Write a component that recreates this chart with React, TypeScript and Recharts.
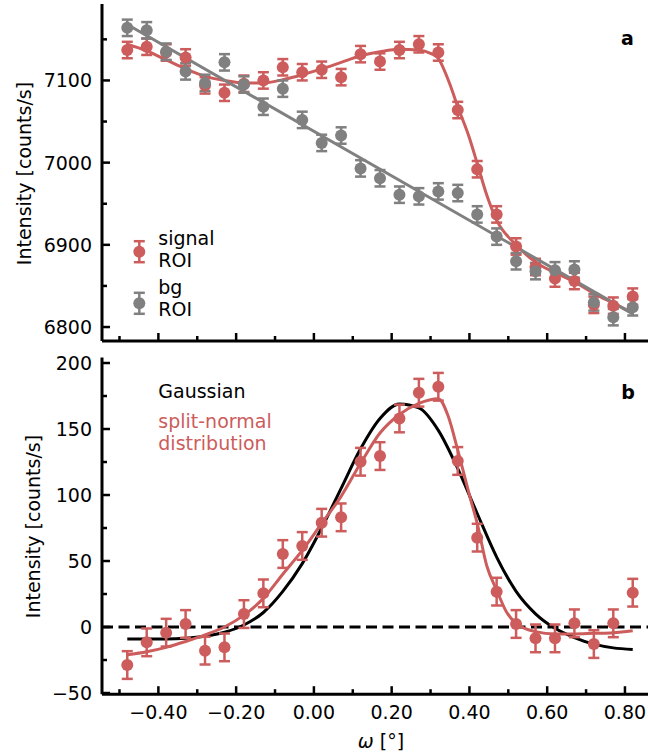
import React from 'react';
import { ComposedChart, Line, Scatter, ErrorBar, XAxis, YAxis, ReferenceLine } from 'recharts';

// measured points (omega in degrees)
const omega = [
  -0.48, -0.43, -0.38, -0.33, -0.28, -0.23, -0.18, -0.13, -0.08, -0.03, 0.02, 0.07, 0.12, 0.17,
  0.22, 0.27, 0.32, 0.37, 0.42, 0.47, 0.52, 0.57, 0.62, 0.67, 0.72, 0.77, 0.82,
];
const signalRoi = [
  7137, 7141, 7134, 7128, 7094, 7085, 7096, 7100, 7116, 7110, 7113, 7104, 7132, 7123,
  7137, 7144, 7134, 7064, 6992, 6937, 6898, 6873, 6859, 6856, 6827, 6826, 6837,
];
const bgRoi = [
  7164, 7161, 7135, 7111, 7097, 7122, 7095, 7068, 7090, 7052, 7024, 7033, 6993, 6981,
  6961, 6959, 6965, 6963, 6937, 6910, 6880, 6868, 6869, 6870, 6830, 6812, 6824,
];
const roiErr = 10;
const netSignal = [
  -28.8, -11.6, -4.3, 2.3, -17.9, -15.4, 9.8, 25.5, 55.3, 61.4, 79, 83.1, 125.2, 129.5,
  158, 177.5, 182, 125.8, 67.7, 26.8, 2.3, -8.6, -8.6, 2.8, -12.9, 2.8, 26,
];
const netErr = 10.5;

// fitted curves
const signalFitX = [
  -0.48, -0.43, -0.38, -0.33, -0.28, -0.23, -0.18, -0.13, -0.08, -0.03, 0.02, 0.07, 0.12, 0.17,
  0.22, 0.27, 0.3, 0.32, 0.33, 0.35, 0.37, 0.4, 0.42, 0.445, 0.47, 0.52, 0.57, 0.62, 0.67, 0.72, 0.77, 0.82,
];
const signalFitY = [
  7144, 7136, 7125, 7114, 7105, 7100, 7097, 7097, 7101, 7107, 7114, 7122, 7130, 7135,
  7138, 7137, 7133, 7127, 7118, 7095, 7068, 7030, 6999, 6960, 6930, 6900, 6879, 6866, 6855, 6841, 6829, 6817,
];
const bgFitX = [-0.48, 0.82];
const bgFitY = [7168, 6816];

const gaussFitX = [
  -0.48, -0.43, -0.38, -0.33, -0.28, -0.23, -0.18, -0.13, -0.08, -0.03, 0.02, 0.07, 0.12, 0.17,
  0.22, 0.27, 0.32, 0.37, 0.42, 0.47, 0.52, 0.57, 0.62, 0.67, 0.72, 0.77, 0.82,
];
const gaussFitY = [
  -9, -9, -9, -8.5, -7, -4, 1.5, 11, 27, 48, 75, 105, 135, 158,
  169, 166, 149, 120, 86, 53, 27, 10, -1, -8, -13, -15.8, -17,
];
const splitFitX = [
  -0.48, -0.43, -0.38, -0.33, -0.28, -0.23, -0.18, -0.13, -0.08, -0.03, 0.02, 0.07, 0.12, 0.17,
  0.22, 0.27, 0.32, 0.345, 0.37, 0.4, 0.42, 0.445, 0.47, 0.495, 0.52, 0.57, 0.62, 0.67, 0.72, 0.77, 0.82,
];
const splitFitY = [
  -21, -18.7, -15.4, -11, -6, 0, 9, 21.7, 40, 58, 78.5, 99, 124, 147,
  161, 169.5, 173, 160, 134, 100, 78.5, 46, 28, 11.6, 2.8, -3.5, -5.3, -5.3, -4.8, -4.3, -2.8,
];

const xDomain = [-0.545, 0.885];
const xTicks = [-0.5, -0.4, -0.3, -0.2, -0.1, 0, 0.1, 0.2, 0.3, 0.4, 0.5, 0.6, 0.7, 0.8];
const xMajor = [-0.4, -0.2, 0, 0.2, 0.4, 0.6, 0.8];
const topDomain = [6783, 7193];
const topTicks = [6800, 6850, 6900, 6950, 7000, 7050, 7100, 7150];
const topMajor = [6800, 6900, 7000, 7100];
const botDomain = [-50.9, 204.1];
const botTicks = [-50, -25, 0, 25, 50, 75, 100, 125, 150, 175, 200];
const botMajor = [-50, 0, 50, 100, 150, 200];

const RED = '#cd5c5c';
const GREY = '#808080';
const FONT = '"DejaVu Sans", sans-serif';
const frame = { stroke: '#000', strokeWidth: 3 };

const pts = (xs: number[], ys: number[], err?: number) =>
  xs.map((x, i) => ({ x, y: ys[i], err }));

const near = (v: number, list: number[]) => list.some((m) => Math.abs(m - v) < 1e-6);
const fmtX = (v: number) => (v < 0 ? '\u2212' : '') + Math.abs(v).toFixed(2);
const fmtY = (v: number) => (v < 0 ? '\u2212' : '') + Math.abs(v);

const BottomTick = ({ x, y, payload, label }: any) => {
  const major = near(payload.value, xMajor);
  return (
    <g>
      <line x1={x} x2={x} y1={y} y2={y - (major ? 8 : 5)} stroke="#000" strokeWidth={2.5} />
      {label && major && (
        <text x={x} y={y + 25} textAnchor="middle" fontSize={19} fontFamily={FONT} fill="#000">
          {fmtX(payload.value)}
        </text>
      )}
    </g>
  );
};

const TopTick = ({ x, y, payload }: any) => {
  const major = near(payload.value, xMajor);
  return <line x1={x} x2={x} y1={y} y2={y + (major ? 8 : 5)} stroke="#000" strokeWidth={2.5} />;
};

const LeftTick = ({ x, y, payload, majors }: any) => {
  const major = near(payload.value, majors);
  return (
    <g>
      <line x1={x} x2={x + (major ? 8 : 5)} y1={y} y2={y} stroke="#000" strokeWidth={2.5} />
      {major && (
        <text x={x - 10} y={y + 7} textAnchor="end" fontSize={19} fontFamily={FONT} fill="#000">
          {fmtY(payload.value)}
        </text>
      )}
    </g>
  );
};

const dot = (color: string) => (p: any) => <circle cx={p.cx} cy={p.cy} r={6} fill={color} />;

const Axes = ({ yDomain, yTicks, yMajor, xHeight, label }: any) => [
  <XAxis
    key="xb"
    type="number"
    dataKey="x"
    domain={xDomain}
    ticks={xTicks}
    interval={0}
    allowDataOverflow
    height={xHeight}
    tickSize={0}
    tickMargin={0}
    axisLine={frame}
    tickLine={false}
    tick={(p: any) => <BottomTick {...p} label={label} />}
  />,
  <XAxis
    key="xt"
    xAxisId="top"
    orientation="top"
    type="number"
    dataKey="x"
    domain={xDomain}
    ticks={xTicks}
    interval={0}
    allowDataOverflow
    height={0}
    tickSize={0}
    tickMargin={0}
    axisLine={frame}
    tickLine={false}
    tick={(p: any) => <TopTick {...p} />}
  />,
  <YAxis
    key="yl"
    type="number"
    dataKey="y"
    domain={yDomain}
    ticks={yTicks}
    interval={0}
    allowDataOverflow
    width={102}
    tickSize={0}
    tickMargin={0}
    axisLine={frame}
    tickLine={false}
    tick={(p: any) => <LeftTick {...p} majors={yMajor} />}
  />,
];

const LegendGlyph = ({ x, y, color }: any) => (
  <g stroke={color} strokeWidth={2.5}>
    <line x1={x} x2={x} y1={y - 10.5} y2={y + 10.5} />
    <line x1={x - 5.5} x2={x + 5.5} y1={y - 10.5} y2={y - 10.5} />
    <line x1={x - 5.5} x2={x + 5.5} y1={y + 10.5} y2={y + 10.5} />
    <circle cx={x} cy={y} r={6} fill={color} stroke="none" />
  </g>
);

export default function App() {
  return (
    <div
      style={{
        position: 'fixed', left: 0, top: 0, width: 648, height: 755,
        overflow: 'hidden', background: '#fff',
      }}
    >
      <div style={{ position: 'absolute', left: 0, top: 0 }}>
        <ComposedChart width={660} height={345} margin={{ top: 4, right: 2, bottom: 0, left: 0 }}>
          {Axes({ yDomain: topDomain, yTicks: topTicks, yMajor: topMajor, xHeight: 4, label: false })}
          <Scatter data={pts(omega, signalRoi, roiErr)} fill={RED} shape={dot(RED)} isAnimationActive={false}>
            <ErrorBar dataKey="err" direction="y" width={5.5} stroke={RED} strokeWidth={2.5} isAnimationActive={false} />
          </Scatter>
          <Line data={pts(signalFitX, signalFitY)} dataKey="y" type="monotone" stroke={RED} strokeWidth={3} dot={false} isAnimationActive={false} />
          <Scatter data={pts(omega, bgRoi, roiErr)} fill={GREY} shape={dot(GREY)} isAnimationActive={false}>
            <ErrorBar dataKey="err" direction="y" width={5.5} stroke={GREY} strokeWidth={2.5} isAnimationActive={false} />
          </Scatter>
          <Line data={pts(bgFitX, bgFitY)} dataKey="y" type="linear" stroke={GREY} strokeWidth={3} dot={false} isAnimationActive={false} />
        </ComposedChart>
      </div>
      <div style={{ position: 'absolute', left: 0, top: 345 }}>
        <ComposedChart width={660} height={410} margin={{ top: 12.6, right: 2, bottom: 0, left: 0 }}>
          {Axes({ yDomain: botDomain, yTicks: botTicks, yMajor: botMajor, xHeight: 60.8, label: true })}
          <ReferenceLine y={0} stroke="#000" strokeWidth={3} strokeDasharray="11 5.5" />
          <Line data={pts(gaussFitX, gaussFitY)} dataKey="y" type="monotone" stroke="#000" strokeWidth={3} dot={false} isAnimationActive={false} />
          <Scatter data={pts(omega, netSignal, netErr)} fill={RED} shape={dot(RED)} isAnimationActive={false}>
            <ErrorBar dataKey="err" direction="y" width={5.5} stroke={RED} strokeWidth={2.5} isAnimationActive={false} />
          </Scatter>
          <Line data={pts(splitFitX, splitFitY)} dataKey="y" type="monotone" stroke={RED} strokeWidth={3} dot={false} isAnimationActive={false} />
        </ComposedChart>
      </div>
      <svg
        width={648}
        height={755}
        style={{ position: 'absolute', left: 0, top: 0, pointerEvents: 'none' }}
        fontFamily={FONT}
        fontSize={19}
      >
        <text transform="translate(24,173.5) rotate(-90)" textAnchor="middle" dominantBaseline="central">
          Intensity [counts/s]
        </text>
        <text transform="translate(33,526.5) rotate(-90)" textAnchor="middle" dominantBaseline="central">
          Intensity [counts/s]
        </text>
        <text x={381} y={747.5} textAnchor="middle">
          <tspan fontStyle="italic">ω</tspan> [°]
        </text>
        <text x={627.5} y={45} textAnchor="middle" fontWeight="bold">a</text>
        <text x={628} y={399} textAnchor="middle" fontWeight="bold">b</text>

        <LegendGlyph x={139.3} y={251.7} color={RED} />
        <text x={158.3} y={245}>signal</text>
        <text x={158.3} y={267}>ROI</text>
        <LegendGlyph x={139.3} y={303.3} color={GREY} />
        <text x={158.3} y={294}>bg</text>
        <text x={158.3} y={316}>ROI</text>

        <text x={158.3} y={398}>Gaussian</text>
        <text x={158.3} y={428} fill={RED}>split-normal</text>
        <text x={158.3} y={450} fill={RED}>distribution</text>
      </svg>
    </div>
  );
}
